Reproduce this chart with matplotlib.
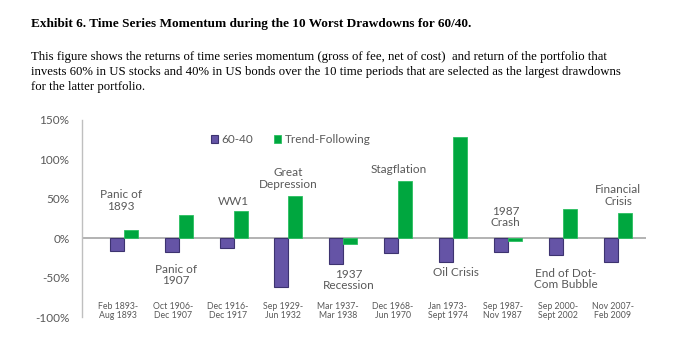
import numpy as np
import matplotlib
matplotlib.use("Agg")
import matplotlib.pyplot as plt

# data (returns in %)
periods = ["Feb 1893-\nAug 1893", "Oct 1906-\nDec 1907", "Dec 1916-\nDec 1917",
           "Sep 1929-\nJun 1932", "Mar 1937-\nMar 1938", "Dec 1968-\nJun 1970",
           "Jan 1973-\nSept 1974", "Sep 1987-\nNov 1987", "Sep 2000-\nSept 2002",
           "Nov 2007-\nFeb 2009"]
ret_6040 = [-16, -17, -13, -62, -33, -19, -30, -18, -21, -30]
ret_trend = [10, 30, 35, 54, -7, 73, 128, -3, 37, 32]
events = ["Panic of\n1893", "Panic of\n1907", "WW1", "Great\nDepression", "1937\nRecession",
          "Stagflation", "Oil Crisis", "1987\nCrash", "End of Dot-\nCom Bubble", "Financial\nCrisis"]
event_y = [48, -47, 46, 76, -53, 87, -43, 27, -52, 54]
event_dx = [-0.05, -0.05, 0.0, 0.0, 0.1, 0.0, 0.05, -0.05, 0.05, 0.0]

title = "Exhibit 6. Time Series Momentum during the 10 Worst Drawdowns for 60/40."
para_lines = [
    "This figure shows the returns of time series momentum (gross of fee, net of cost)  and return of the portfolio that",
    "invests 60% in US stocks and 40% in US bonds over the 10 time periods that are selected as the largest drawdowns",
    "for the latter portfolio.",
]

purple = "#6554A6"
green = "#00A73F"
grey_txt = "#595959"
sans = ["Lato", "DejaVu Sans"]
serif = ["Liberation Serif", "DejaVu Serif"]

fig = plt.figure(figsize=(6.93, 3.57), dpi=100)

fig.text(31 / 693, 1 - 24 / 357, title, family=serif, fontsize=9.5, fontweight="bold",
         va="center", ha="left")
for k, line in enumerate(para_lines):
    fig.text(31 / 693, 1 - (57 + 15 * k) / 357, line, family=serif, fontsize=9.2,
             va="center", ha="left")

ax = fig.add_axes([82 / 693, 1 - 317 / 357, 564 / 693, 197 / 357])
x = np.arange(len(periods))
w = 0.255
ax.bar(x - w / 2, ret_6040, w, color=purple, edgecolor="#3D3370", linewidth=0.8, label="60-40")
ax.bar(x + w / 2, ret_trend, w, color=green, edgecolor="#2BC060", linewidth=0.6, label="Trend-Following")
ax.axhline(0, color="#A6A6A6", linewidth=1.2, zorder=0)

ax.set_xlim(-0.76, 9.51)
ax.set_ylim(-100, 150)
ax.set_yticks([-100, -50, 0, 50, 100, 150])
ax.set_yticklabels(["-100%", "-50%", "0%", "50%", "100%", "150%"])
ax.tick_params(axis="y", length=0, pad=9, labelsize=8.5, labelcolor=grey_txt)
for lab in ax.get_yticklabels():
    lab.set_family(sans)
ax.set_xticks([])
for s in ["top", "right", "bottom"]:
    ax.spines[s].set_visible(False)
ax.spines["left"].set_color("#BFBFBF")
ax.spines["left"].set_linewidth(1.0)

for i in x:
    ax.text(i - 0.1, -93, periods[i], family=sans, fontsize=6.3, color=grey_txt,
            ha="center", va="center", linespacing=1.0)
    ax.text(i + event_dx[i], event_y[i], events[i], family=sans, fontsize=8.5, color=grey_txt,
            ha="center", va="center", linespacing=1.05)

leg = ax.legend(loc="center", bbox_to_anchor=(0.37, 0.90), ncol=2, frameon=False,
                handlelength=0.6, handleheight=0.6, handletextpad=0.3, columnspacing=1.8,
                prop={"family": sans, "size": 8.5})
for t in leg.get_texts():
    t.set_color(grey_txt)

fig.savefig("out.png", dpi=100)
